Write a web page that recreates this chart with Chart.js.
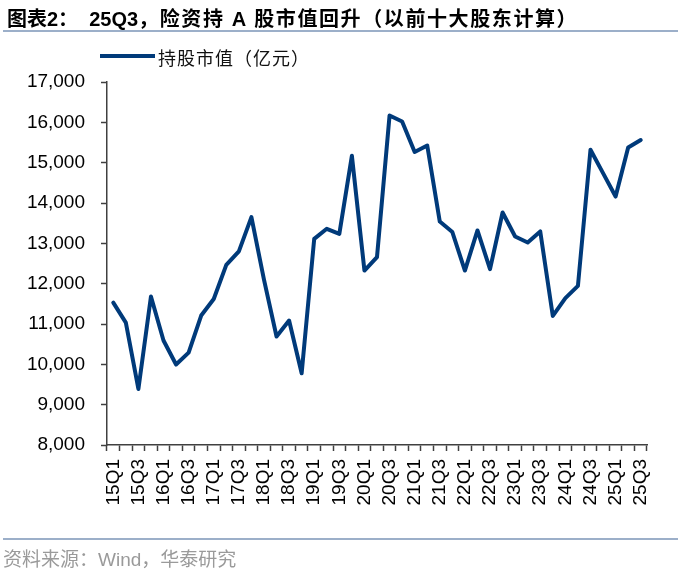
<!DOCTYPE html>
<html>
<head>
<meta charset="utf-8">
<script src="https://cdn.jsdelivr.net/npm/chart.js@4.4.1/dist/chart.umd.min.js"></script>
<style>
  body { margin: 0; background: #fff; }
  #wrap { position: relative; width: 684px; height: 570px; overflow: hidden; }
  #chart { position: absolute; left: 0; top: 0; }
  .title { position: absolute; left: 7px; top: 3px; font: bold 20px "Liberation Sans", "Noto Sans CJK SC", sans-serif; color: #000; white-space: pre; }
  .title .rest { letter-spacing: 1.6px; }
  .rule { position: absolute; left: 3px; width: 675px; height: 2px; background: #9cafc9; }
  .legend-line { position: absolute; left: 100px; top: 54px; width: 55px; height: 4px; background: #003a7a; }
  .legend-text { position: absolute; left: 158px; top: 44px; font: 18px "Noto Sans CJK SC", sans-serif; color: #111; letter-spacing: 1px; }
  .source { position: absolute; left: 3px; top: 544px; font: 19px "Liberation Sans", "Noto Sans CJK SC", sans-serif; color: #9a9a9a; white-space: pre; }
</style>
</head>
<body>
<div id="wrap">
  <canvas id="chart" width="684" height="570"></canvas>
  <div class="title">图表2：  25Q3<span class="rest">，险资持 A 股市值回升（以前十大股东计算）</span></div>
  <div class="rule" style="top:30px"></div>
  <div class="legend-line"></div>
  <div class="legend-text">持股市值（亿元）</div>
  <div class="rule" style="top:538px"></div>
  <div class="source">资料来源：Wind，华泰研究</div>
</div>
<script>
// 季度
const quarters = [
  "15Q1", "15Q2", "15Q3", "15Q4", "16Q1", "16Q2", "16Q3", "16Q4",
  "17Q1", "17Q2", "17Q3", "17Q4", "18Q1", "18Q2", "18Q3", "18Q4",
  "19Q1", "19Q2", "19Q3", "19Q4", "20Q1", "20Q2", "20Q3", "20Q4",
  "21Q1", "21Q2", "21Q3", "21Q4", "22Q1", "22Q2", "22Q3", "22Q4",
  "23Q1", "23Q2", "23Q3", "23Q4", "24Q1", "24Q2", "24Q3", "24Q4",
  "25Q1", "25Q2", "25Q3"
];

// 持股市值（亿元）
const marketValue = [
  11530, 11035, 9390, 11680, 10590, 9995, 10290, 11210,
  11620, 12465, 12800, 13650, 12100, 10690, 11085, 9780,
  13110, 13360, 13235, 15170, 12325, 12660, 16170, 16020,
  15265, 15425, 13540, 13280, 12325, 13320, 12360, 13765,
  13170, 13020, 13295, 11200, 11640, 11945, 15320, 14740,
  14160, 15375, 15560
];

// y 轴范围
const yMin = 8000;
const yMax = 17000;
const yStep = 1000;

const axisColor = "#404040";
const tickFont = { family: "'Liberation Sans', Arial, sans-serif", size: 19 };

const chartConfig = {
  type: "line",
  data: {
    labels: quarters,
    datasets: [{
      label: "持股市值（亿元）",
      data: marketValue,
      borderColor: "#003a7a",
      backgroundColor: "#003a7a",
      borderWidth: 4,
      borderJoinStyle: "round",
      borderCapStyle: "round",
      pointRadius: 0,
      tension: 0,
      fill: false,
    }],
  },
  options: {
    responsive: false,
    animation: false,
    devicePixelRatio: 1,
    layout: { padding: { left: 0, top: 82, right: 37, bottom: 65 } },
    plugins: {
      legend: { display: false },
      tooltip: { enabled: false },
    },
    scales: {
      x: {
        type: "category",
        offset: true,
        grid: { offset: true, drawOnChartArea: false, tickLength: 6, tickColor: axisColor, tickWidth: 1.5 },
        border: { color: axisColor, width: 1.5 },
        ticks: {
          autoSkip: false,
          minRotation: 90,
          maxRotation: 90,
          padding: 8,
          color: "#000",
          font: tickFont,
          callback: (value, index) => (index % 2 === 0 ? quarters[index] : ""),
        },
        afterFit: (scale) => { scale.height = 60; },
      },
      y: {
        min: yMin,
        max: yMax,
        grid: { drawOnChartArea: false, tickLength: 6, tickColor: axisColor, tickWidth: 1.5 },
        border: { color: axisColor, width: 1.5 },
        ticks: {
          stepSize: yStep,
          padding: 16,
          color: "#000",
          font: tickFont,
          callback: (value) => value.toLocaleString("en-US"),
        },
        afterFit: (scale) => { scale.width = 107; },
      },
    },
  },
};

new Chart(document.getElementById("chart"), chartConfig);
</script>
</body>
</html>
